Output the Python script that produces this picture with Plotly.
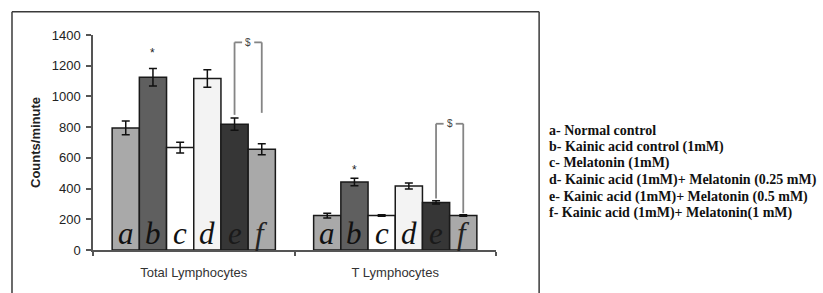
import plotly.graph_objects as go

categories = ["Total Lymphocytes", "T Lymphocytes"]
group_letters = ["a", "b", "c", "d", "e", "f"]
group_names = [
    "a- Normal control",
    "b- Kainic acid control (1mM)",
    "c- Melatonin (1mM)",
    "d- Kainic acid (1mM)+ Melatonin (0.25 mM)",
    "e- Kainic acid (1mM)+ Melatonin (0.5 mM)",
    "f- Kainic acid (1mM)+ Melatonin(1 mM)",
]
# values per group: [Total Lymphocytes, T Lymphocytes]
val_a = [795, 224]
val_b = [1125, 443]
val_c = [667, 224]
val_d = [1116, 417]
val_e = [819, 310]
val_f = [656, 224]
err_a = [45, 15]
err_b = [57, 24]
err_c = [35, 5]
err_d = [57, 20]
err_e = [40, 10]
err_f = [36, 5]
y_ticks = [0, 200, 400, 600, 800, 1000, 1200, 1400]

values = [val_a, val_b, val_c, val_d, val_e, val_f]
errors = [err_a, err_b, err_c, err_d, err_e, err_f]
colors = ["#a9a9a9", "#5f5f5f", "#ffffff", "#f3f3f3", "#363636", "#a9a9a9"]
letter_colors = ["#111", "#111", "#111", "#111", "#1a1a1a", "#222"]

SERIF = "Liberation Serif, Times New Roman, DejaVu Serif, serif"
SANS = "Liberation Sans, Arial, Helvetica, sans-serif"

BARGAP = 0.19
n = len(values)
bw = (1 - BARGAP) / n


def bar_x(cat, i):
    return cat - (1 - BARGAP) / 2 + (i + 0.5) * bw


fig = go.Figure()
for i in range(n):
    fig.add_trace(go.Bar(
        x=[0, 1], y=values[i], name=group_names[i],
        marker=dict(color=colors[i], line=dict(color="#1a1a1a", width=1.5)),
        error_y=dict(type="data", array=errors[i], color="#111", thickness=1.5, width=4),
        showlegend=False, hoverinfo="skip",
    ))

annotations = []
# letters in bars
for c in range(2):
    for i in range(n):
        annotations.append(dict(
            x=bar_x(c, i), y=0, xref="x", yref="y", text=group_letters[i],
            showarrow=False, yanchor="bottom", yshift=-3,
            font=dict(family=SERIF, size=31, color=letter_colors[i], style="italic"),
        ))
# stars above b
star_y = [1285, 521]
for c in range(2):
    annotations.append(dict(
        x=bar_x(c, 1), y=star_y[c], xref="x", yref="y", text="*",
        showarrow=False, yanchor="middle",
        font=dict(family=SANS, size=12, color="#222"),
    ))

shapes = []
bracket_top = [1352, 822]
bracket_left_bottom = [880, 335]
bracket_right_bottom = [893, 240]
gap = 0.03
for c in range(2):
    xl = bar_x(c, 4)
    xr = bar_x(c, 5)
    xm = (xl + xr) / 2
    line = dict(color="#858585", width=1.8)
    shapes.append(dict(type="line", xref="x", yref="y", x0=xl, x1=xl,
                       y0=bracket_left_bottom[c], y1=bracket_top[c], line=line))
    shapes.append(dict(type="line", xref="x", yref="y", x0=xr, x1=xr,
                       y0=bracket_right_bottom[c], y1=bracket_top[c], line=line))
    shapes.append(dict(type="line", xref="x", yref="y", x0=xl, x1=xm - gap,
                       y0=bracket_top[c], y1=bracket_top[c], line=line))
    shapes.append(dict(type="line", xref="x", yref="y", x0=xm + gap, x1=xr,
                       y0=bracket_top[c], y1=bracket_top[c], line=line))
    annotations.append(dict(
        x=xm, y=bracket_top[c], xref="x", yref="y", text="$", showarrow=False,
        yanchor="middle", font=dict(family=SANS, size=10, color="#444"),
    ))

# outer frame (left, top, right edges; bottom is outside the picture)
fx0, fx1, fy0, fy1 = -0.201, 1.107, -0.3, 1.1085
frame = dict(color="#3a3a3a", width=1.5)
shapes.append(dict(type="line", xref="paper", yref="paper", x0=fx0, x1=fx0, y0=fy0, y1=fy1, line=frame))
shapes.append(dict(type="line", xref="paper", yref="paper", x0=fx1, x1=fx1, y0=fy0, y1=fy1, line=frame))
shapes.append(dict(type="line", xref="paper", yref="paper", x0=fx0, x1=fx1, y0=fy1, y1=fy1, line=frame))

# legend text
legend_y_px = [130.3, 146.8, 163.4, 180.0, 196.6, 213.2]
for name, ypx in zip(group_names, legend_y_px):
    annotations.append(dict(
        x=1.1266, y=(250 - ypx) / 214.7, xref="paper", yref="paper",
        text=name, showarrow=False, xanchor="left", yanchor="middle",
        font=dict(family=SERIF, size=14, color="#111", weight="bold"),
    ))

fig.update_layout(
    width=823, height=293,
    margin=dict(l=93, r=327, t=35, b=43),
    paper_bgcolor="white", plot_bgcolor="white",
    barmode="group", bargap=BARGAP, bargroupgap=0,
    shapes=shapes, annotations=annotations,
    font=dict(family=SANS, size=13, color="#222"),
)
fig.update_xaxes(
    range=[-0.5, 1.5], tickvals=[0, 1], ticktext=categories, ticks="",
    showline=True, linecolor="#555", linewidth=1.5, showgrid=False, zeroline=False,
    tickfont=dict(family=SANS, size=13, color="#333"), ticklabelstandoff=10,
    minor=dict(tickvals=[-0.5, 0.5, 1.5], ticks="outside", ticklen=4, tickcolor="#555", tickwidth=1.5),
)
fig.update_yaxes(
    range=[0, 1400], tickvals=y_ticks, ticks="outside", ticklen=5, tickcolor="#555", tickwidth=1.5,
    showline=True, linecolor="#555", linewidth=1.5, showgrid=False, zeroline=False,
    tickfont=dict(family=SANS, size=13, color="#222"), ticklabelstandoff=3,
    title=dict(text="<b>Counts/minute</b>", font=dict(family=SANS, size=13, color="#222"), standoff=8),
)
fig.write_html("out.html", post_script="document.body.style.margin='0px';",
               config={"displayModeBar": False})
